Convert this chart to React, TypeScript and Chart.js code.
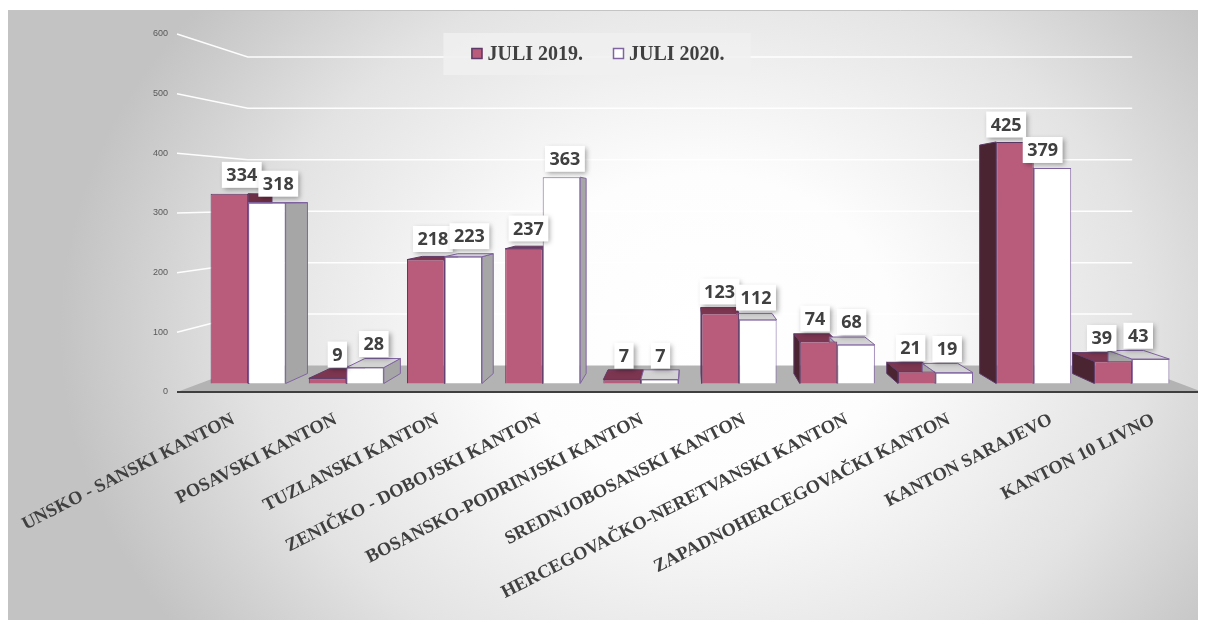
import React, { useEffect, useRef } from "react";
import { Chart, registerables } from "chart.js";

Chart.register(...registerables);

// ---------- data ----------
const CATEGORIES = [
  "UNSKO - SANSKI KANTON",
  "POSAVSKI KANTON",
  "TUZLANSKI KANTON",
  "ZENIČKO - DOBOJSKI KANTON",
  "BOSANSKO-PODRINJSKI KANTON",
  "SREDNJOBOSANSKI KANTON",
  "HERCEGOVAČKO-NERETVANSKI KANTON",
  "ZAPADNOHERCEGOVAČKI KANTON",
  "KANTON SARAJEVO",
  "KANTON 10 LIVNO",
];
const JULI_2019 = [334, 9, 218, 237, 7, 123, 74, 21, 425, 39];
const JULI_2020 = [318, 28, 223, 363, 7, 112, 68, 19, 379, 43];
const SERIES_LABELS = ["JULI 2019.", "JULI 2020."];
const AXIS_MIN = 0;
const AXIS_MAX = 600;
const AXIS_STEP = 100;

// ---------- style ----------
const W = 1190;
const H = 612;
const DEPTH = 0.054; // bar depth toward vanishing point
const WALL = 0.138; // back wall depth
const FRONT = -0.041; // floor front edge (labels)
const HORIZON = 0.464; // fraction of plot height
const SERIES_STYLE = [
  { fill: "#b95c7b", border: "#5e3a68", top: "#7d3650", rightSide: "#6e2f45", leftSide: "#4a2430" },
  { fill: "#ffffff", border: "#8064a2", top: "#d3d3d3", rightSide: "#a6a6a6", leftSide: "#a6a6a6" },
];
const TEXT = "#404040";
const CAT_FONT = 'bold 18.5px "Liberation Serif"';
const VALUE_FONT = '700 18px "Open Sans"';
const LEGEND_FONT = 'bold 20px "Liberation Serif"';

function geometry(chart: any) {
  const a = chart.chartArea;
  const vpx = (a.left + a.right) / 2;
  const hz = a.top + (a.bottom - a.top) * HORIZON;
  const proj = (x: number, y: number, k: number): [number, number] => [x + k * (vpx - x), y + k * (hz - y)];
  return { a, vpx, hz, proj };
}

const scene3d = {
  id: "scene3d",
  beforeDraw(chart: any) {
    const ctx = chart.ctx as CanvasRenderingContext2D;
    const { a, proj } = geometry(chart);

    // background
    ctx.save();
    const cx = 692, cy = 322, rx = 640, k = 520 / 640;
    ctx.translate(cx, cy);
    ctx.scale(1, k);
    const g = ctx.createRadialGradient(0, 0, 0, 0, 0, rx);
    g.addColorStop(0, "#ffffff");
    g.addColorStop(0.3, "#fdfdfd");
    g.addColorStop(0.7, "#e3e3e3");
    g.addColorStop(1, "#c3c3c3");
    ctx.fillStyle = g;
    ctx.fillRect(-cx, (2 - cy) / k, W, (H - 2) / k);
    ctx.restore();
    ctx.save();
    ctx.strokeStyle = "#c4c4c4";
    ctx.lineWidth = 1;
    ctx.beginPath();
    ctx.moveTo(0, 2.5);
    ctx.lineTo(W, 2.5);
    ctx.stroke();
    ctx.restore();

    const fl = a.left - 22;
    const fr = a.right + 22;

    // back wall grid lines
    const y2 = chart.scales.y2;
    ctx.save();
    ctx.strokeStyle = "rgba(255,255,255,0.95)";
    ctx.lineWidth = 1.5;
    y2.ticks.forEach((t: any) => {
      if (t.value === AXIS_MIN) return;
      const fy = y2.getPixelForValue(t.value);
      const [bx, by] = proj(fl, fy, WALL);
      const [bxr] = proj(fr, fy, WALL);
      ctx.beginPath();
      ctx.moveTo(fl, fy);
      ctx.lineTo(bx, by);
      ctx.lineTo(bxr, by);
      ctx.stroke();
    });
    ctx.restore();

    // floor
    const [blx, bly] = proj(fl, a.bottom, WALL);
    const [brx] = proj(fr, a.bottom, WALL);
    ctx.save();
    ctx.fillStyle = "#b3b3b3";
    ctx.beginPath();
    ctx.moveTo(fl, a.bottom);
    ctx.lineTo(fr, a.bottom);
    ctx.lineTo(brx, bly);
    ctx.lineTo(blx, bly);
    ctx.closePath();
    ctx.fill();
    ctx.strokeStyle = "#3f3f3f";
    ctx.lineWidth = 2;
    ctx.beginPath();
    ctx.moveTo(fl, a.bottom);
    ctx.lineTo(fr, a.bottom);
    ctx.stroke();
    ctx.restore();

    // legend
    ctx.save();
    ctx.font = LEGEND_FONT;
    const ds = chart.data.datasets;
    const widths = ds.map((d: any) => ctx.measureText(d.label).width);
    const sq = 11, gap = 5, spacing = 30;
    const total = widths.reduce((s: number, w: number) => s + w + sq + gap, 0) + spacing * (ds.length - 1);
    const centerX = 590, centerY = 46;
    let x = centerX - total / 2;
    ctx.fillStyle = "rgba(240,240,240,0.85)";
    ctx.fillRect(x - 28, centerY - 21, total + 54, 42);
    ds.forEach((d: any, i: number) => {
      ctx.fillStyle = d.backgroundColor;
      ctx.strokeStyle = d.borderColor;
      ctx.lineWidth = 1.5;
      ctx.fillRect(x, centerY - 6, sq, sq);
      ctx.strokeRect(x + 0.5, centerY - 5.5, sq - 1, sq - 1);
      ctx.fillStyle = TEXT;
      ctx.textAlign = "left";
      ctx.textBaseline = "middle";
      ctx.fillText(d.label, x + sq + gap, centerY + 1);
      x += sq + gap + widths[i] + spacing;
    });
    ctx.restore();

    // category labels on the floor front edge
    const xs = chart.scales.x;
    ctx.save();
    ctx.font = CAT_FONT;
    ctx.fillStyle = TEXT;
    ctx.textAlign = "right";
    ctx.textBaseline = "alphabetic";
    chart.data.labels.forEach((lab: string, i: number) => {
      const [ax] = proj(xs.getPixelForValue(i), a.bottom, FRONT);
      const ay = a.bottom + 20;
      ctx.save();
      ctx.translate(ax, ay);
      ctx.rotate((-27 * Math.PI) / 180);
      ctx.fillText(lab, 0, 12.3);
      ctx.restore();
    });
    ctx.restore();
  },
  beforeDatasetsDraw(chart: any) {
    const ctx = chart.ctx as CanvasRenderingContext2D;
    const { vpx, hz, proj } = geometry(chart);
    chart.data.datasets.forEach((_: any, i: number) => {
      const st = SERIES_STYLE[i];
      chart.getDatasetMeta(i).data.forEach((el: any) => {
        const { x, y, base, width } = el.getProps(["x", "y", "base", "width"], true);
        const L = x - width / 2, R = x + width / 2, T = y, B = base;
        const face = (pts: number[][], fill: string) => {
          ctx.beginPath();
          ctx.moveTo(pts[0][0], pts[0][1]);
          for (let p = 1; p < pts.length; p++) ctx.lineTo(pts[p][0], pts[p][1]);
          ctx.closePath();
          ctx.fillStyle = fill;
          ctx.fill();
          ctx.strokeStyle = st.border;
          ctx.lineWidth = 1;
          ctx.stroke();
        };
        ctx.save();
        ctx.lineJoin = "round";
        if (R < vpx) face([[R, T], [R, B], proj(R, B, DEPTH), proj(R, T, DEPTH)], st.rightSide);
        if (L > vpx) face([[L, T], [L, B], proj(L, B, DEPTH), proj(L, T, DEPTH)], st.leftSide);
        if (T > hz) face([[L, T], [R, T], proj(R, T, DEPTH), proj(L, T, DEPTH)], st.top);
        ctx.restore();
      });
    });
  },
  afterDatasetsDraw(chart: any) {
    const ctx = chart.ctx as CanvasRenderingContext2D;
    const { proj } = geometry(chart);
    ctx.save();
    ctx.font = VALUE_FONT;
    chart.data.datasets.forEach((ds: any, i: number) => {
      chart.getDatasetMeta(i).data.forEach((el: any, j: number) => {
        const { x, y } = el.getProps(["x", "y"], true);
        const [bx, by] = proj(x, y, DEPTH);
        const cx = (x + bx) / 2;
        const cy = (y + by) / 2;
        const text = String(ds.data[j]);
        const tw = ctx.measureText(text).width;
        const bw = tw + 9, bh = 26;
        const bottom = cy - 6;
        ctx.save();
        ctx.shadowColor = "rgba(0,0,0,0.35)";
        ctx.shadowBlur = 5;
        ctx.shadowOffsetX = 2;
        ctx.shadowOffsetY = 2;
        ctx.fillStyle = "#ffffff";
        ctx.fillRect(cx - bw / 2, bottom - bh, bw, bh);
        ctx.restore();
        ctx.fillStyle = TEXT;
        ctx.textAlign = "center";
        ctx.textBaseline = "middle";
        ctx.fillText(text, cx, bottom - bh / 2 + 1);
      });
    });
    ctx.restore();
  },
};

export default function App() {
  const ref = useRef<HTMLCanvasElement>(null);
  useEffect(() => {
    const chart = new Chart(ref.current as HTMLCanvasElement, {
      type: "bar",
      data: {
        labels: CATEGORIES,
        datasets: [JULI_2019, JULI_2020].map((d, i) => ({
          label: SERIES_LABELS[i],
          data: d,
          backgroundColor: SERIES_STYLE[i].fill,
          borderColor: SERIES_STYLE[i].border,
          borderWidth: 1,
          barPercentage: 1,
          categoryPercentage: 0.764,
        })),
      },
      options: {
        responsive: false,
        animation: false,
        layout: { padding: { top: 26, bottom: 228, left: 0, right: 17 } },
        plugins: { legend: { display: false }, tooltip: { enabled: false } },
        scales: {
          x: { display: false },
          y: { display: false, min: -15, max: 615 },
          y2: {
            position: "left",
            min: AXIS_MIN,
            max: AXIS_MAX,
            ticks: {
              stepSize: AXIS_STEP,
              padding: 31,
              color: "#595959",
              font: { family: '"Liberation Sans"', size: 9 },
            },
            grid: { display: false, drawTicks: false },
            border: { display: false },
            afterFit: (s: any) => {
              s.width = 191;
              s.paddingTop = 0;
              s.paddingBottom = 0;
            },
          },
        },
      },
      plugins: [scene3d as any],
    });
    return () => chart.destroy();
  }, []);
  return (
    <div style={{ width: W, height: H }}>
      <canvas ref={ref} width={W} height={H} style={{ display: "block" }} />
    </div>
  );
}
